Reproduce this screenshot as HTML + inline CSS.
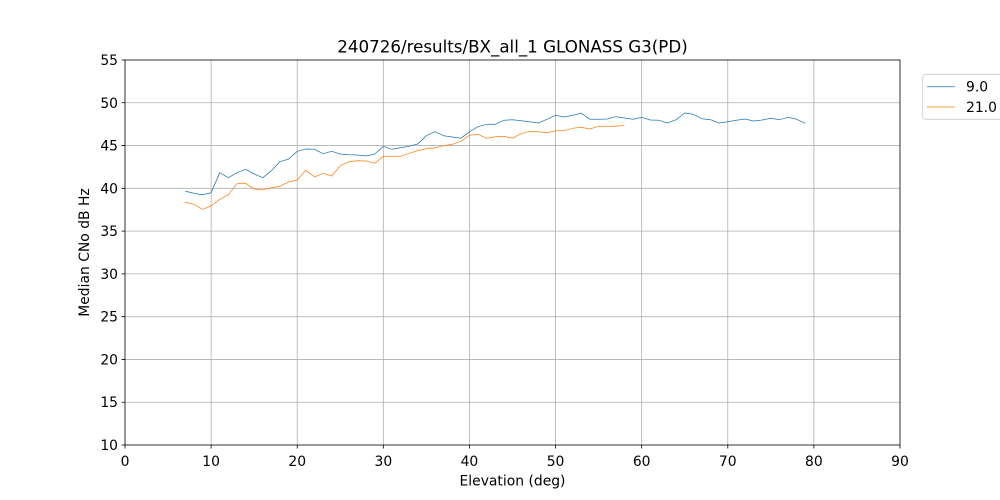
<!DOCTYPE html>
<html><head><meta charset="utf-8"><style>
html,body{margin:0;padding:0;background:#fff;}
svg{display:block;font-family:"DejaVu Sans","Liberation Sans",sans-serif;}
</style></head><body>
<svg width="1000" height="500" viewBox="0 0 1000 500" xmlns="http://www.w3.org/2000/svg">
<rect width="1000" height="500" fill="#fff"/>
<g stroke="#b0b0b0" stroke-width="0.8" fill="none">
<path d="M211.11 60V445M297.22 60V445M383.33 60V445M469.44 60V445M555.56 60V445M641.67 60V445M727.78 60V445M813.89 60V445"/>
<path d="M125 402.22H900M125 359.44H900M125 316.67H900M125 273.89H900M125 231.11H900M125 188.33H900M125 145.56H900M125 102.78H900"/>
</g>
<polyline fill="none" stroke="#1f77b4" stroke-width="0.75" stroke-linejoin="round" points="185.28,191.3 193.89,193.3 202.5,194.7 211.11,192.7 219.72,172.7 228.33,177.7 236.94,172.7 245.56,169.3 254.17,174 262.78,177.7 271.39,170.7 280,161.7 288.61,159 297.22,151.3 305.83,149 314.44,149.3 323.06,153.7 331.67,151.3 340.28,154 348.89,154.7 357.5,155 366.11,156 374.72,154 383.33,146.3 391.94,149.3 400.56,147.7 409.17,146.3 417.78,144 426.39,135.7 435,131.7 443.61,135.7 452.22,137 460.83,138.3 469.44,131.7 478.06,126.7 486.67,124.3 495.28,124.3 503.89,120.3 512.5,119.7 521.11,120.7 529.72,121.7 538.33,123 546.94,119.3 555.56,115.3 564.17,117 572.78,115.3 581.39,113.3 590,119.3 598.61,119.3 607.22,119 615.83,116.7 624.44,118 633.06,119.3 641.67,117.3 650.28,120 658.89,120.3 667.5,123 676.11,119.7 684.72,113 693.33,114.3 701.94,118.7 710.56,119.7 719.17,123 727.78,121.7 736.39,120.3 745,119 753.61,121 762.22,120 770.83,118.3 779.44,119.7 788.06,117.3 796.67,119.3 805.28,123.3"/>
<polyline fill="none" stroke="#ff7f0e" stroke-width="0.75" stroke-linejoin="round" points="185.28,202.3 193.89,204.3 202.5,209.3 211.11,206 219.72,199.3 228.33,194.7 236.94,183.7 245.56,183.3 254.17,189 262.78,190 271.39,187.7 280,186.3 288.61,182 297.22,180 305.83,170.3 314.44,177 323.06,173.3 331.67,176 340.28,165.7 348.89,161.7 357.5,160.7 366.11,161 374.72,163.3 383.33,156.3 391.94,156.3 400.56,156.3 409.17,153.3 417.78,150.7 426.39,148.7 435,148 443.61,145.7 452.22,144.3 460.83,141.3 469.44,135.3 478.06,134.3 486.67,138.3 495.28,136.7 503.89,136.3 512.5,138.3 521.11,133.7 529.72,131.3 538.33,131.7 546.94,132.7 555.56,130.7 564.17,130.7 572.78,128.3 581.39,127.3 590,129 598.61,126.3 607.22,126.3 615.83,126.3 624.44,125.3"/>
<rect x="125" y="60" width="775" height="385" fill="none" stroke="#000" stroke-width="0.8"/>
<g stroke="#000" stroke-width="0.8">
<path d="M125 445v3.5M211.11 445v3.5M297.22 445v3.5M383.33 445v3.5M469.44 445v3.5M555.56 445v3.5M641.67 445v3.5M727.78 445v3.5M813.89 445v3.5M900 445v3.5"/>
<path d="M125 445h-3.5M125 402.22h-3.5M125 359.44h-3.5M125 316.67h-3.5M125 273.89h-3.5M125 231.11h-3.5M125 188.33h-3.5M125 145.56h-3.5M125 102.78h-3.5M125 60h-3.5"/>
</g>
<g font-size="13.9" fill="#000" text-anchor="middle">
<text x="125" y="466">0</text>
<text x="211.11" y="466">10</text>
<text x="297.22" y="466">20</text>
<text x="383.33" y="466">30</text>
<text x="469.44" y="466">40</text>
<text x="555.56" y="466">50</text>
<text x="641.67" y="466">60</text>
<text x="727.78" y="466">70</text>
<text x="813.89" y="466">80</text>
<text x="900" y="466">90</text>
</g>
<g font-size="13.9" fill="#000" text-anchor="end">
<text x="118" y="450">10</text>
<text x="118" y="407.2">15</text>
<text x="118" y="364.4">20</text>
<text x="118" y="321.7">25</text>
<text x="118" y="278.9">30</text>
<text x="118" y="236.1">35</text>
<text x="118" y="193.3">40</text>
<text x="118" y="150.6">45</text>
<text x="118" y="107.8">50</text>
<text x="118" y="65">55</text>
</g>
<text x="512.5" y="485.7" font-size="13.9" text-anchor="middle">Elevation (deg)</text>
<text transform="translate(89,252.5) rotate(-90)" font-size="13.9" text-anchor="middle">Median CNo dB Hz</text>
<text x="512.5" y="52.7" font-size="16.7" text-anchor="middle">240726/results/BX_all_1 GLONASS G3(PD)</text>
<rect x="922.7" y="74.3" width="90" height="45" rx="3" ry="3" fill="#fff" fill-opacity="0.8" stroke="#cccccc" stroke-width="0.8"/>
<line x1="927" y1="86.7" x2="955" y2="86.7" stroke="#1f77b4" stroke-width="0.75"/>
<line x1="927" y1="107" x2="955" y2="107" stroke="#ff7f0e" stroke-width="0.75"/>
<text x="966" y="91.5" font-size="13.9">9.0</text>
<text x="966" y="112" font-size="13.9">21.0</text>
</svg>
</body></html>
